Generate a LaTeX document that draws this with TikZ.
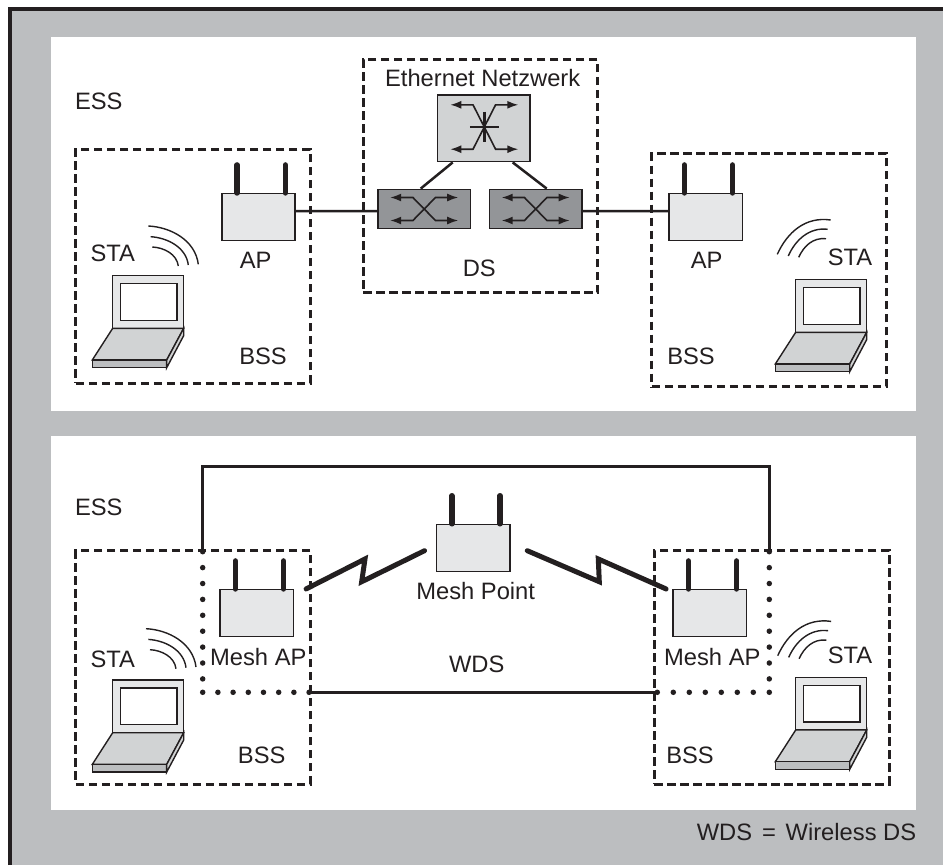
\documentclass[tikz,border=0pt]{standalone}
\usepackage{fontspec}
\setmainfont{Liberation Sans}
\usepackage{xcolor}
\definecolor{wlgray}{RGB}{188,190,192}
\definecolor{wllight}{RGB}{230,231,232}
\definecolor{wlmid}{RGB}{209,211,212}
\definecolor{wldark}{RGB}{147,149,152}
\definecolor{wlink}{RGB}{35,31,32}
\usetikzlibrary{arrows.meta, positioning}
\tikzset{
  lbl/.style={font=\fontsize{6.75}{8}\selectfont, text=wlink, inner sep=0pt},
  zone/.style={draw=wlink, line width=0.03cm, dash pattern=on 0.085cm off 0.045cm, inner sep=0pt},
  apbox/.style={draw=wlink, fill=wllight, line width=0.015cm, minimum width=0.733cm, minimum height=0.47cm, inner sep=0pt},
  swbox/.style={draw=wlink, fill=wldark, line width=0.015cm, minimum width=0.927cm, minimum height=0.393cm, inner sep=0pt},
  corebox/.style={draw=wlink, fill=wlmid, line width=0.015cm, minimum width=0.927cm, minimum height=0.667cm, inner sep=0pt},
  antenna/.style={draw=wlink, line width=0.055cm, line cap=round},
  link/.style={draw=wlink, line width=0.025cm},
  zigzag/.style={draw=wlink, line width=0.05cm, line cap=round},
  meshdots/.style={draw=wlink, line width=0.055cm, line cap=round},
  thinline/.style={draw=wlink, line width=0.014cm},
  swarrow/.style={draw=wlink, line width=0.016cm, {Latex[length=0.11cm,width=0.08cm]}-{Latex[length=0.11cm,width=0.08cm]}}
}
\newcommand{\antennas}[1]{
  \draw[antenna] ([xshift=-0.214cm]#1.north) -- ++(0,-0.28);
  \draw[antenna] ([xshift=0.268cm]#1.north) -- ++(0,-0.28);
}
\newcommand{\laptop}[1]{
  \begin{scope}[shift={#1}]
    \draw[thinline, fill=wllight] (0,0) rectangle (0.71,-0.526);
    \draw[thinline, fill=white] (0.076,-0.08) rectangle (0.643,-0.446);
    \draw[thinline, fill=wlmid] (0,0) -- (0.71,0) -- (0.54,0.317) -- (-0.204,0.317) -- cycle;
    \draw[thinline, fill=wlgray] (-0.204,0.317) rectangle (0.54,0.394);
    \draw[thinline, fill=wlmid] (0.54,0.317) -- (0.71,0) -- (0.71,0.073) -- (0.54,0.394) -- cycle;
  \end{scope}
}
\newcommand{\wavesleft}[1]{
  \begin{scope}[shift={#1}]
    \draw[thinline] (0,0) .. controls (0.22,0.01) and (0.47,0.14) .. (0.50,0.383);
    \draw[thinline] (0.024,0.107) .. controls (0.189,0.117) and (0.379,0.212) .. (0.40,0.39);
    \draw[thinline] (0.04,0.21) .. controls (0.155,0.215) and (0.285,0.28) .. (0.30,0.40);
  \end{scope}
}
\newcommand{\wavesright}[1]{
  \begin{scope}[shift={#1}]
    \draw[thinline] (0,0) .. controls (0.10,-0.22) and (0.28,-0.38) .. (0.534,-0.343);
    \draw[thinline] (0.11,0.017) .. controls (0.18,-0.143) and (0.32,-0.273) .. (0.504,-0.25);
    \draw[thinline] (0.214,0.03) .. controls (0.264,-0.08) and (0.354,-0.17) .. (0.487,-0.156);
  \end{scope}
}
\newcommand{\swarrows}[2]{
  \begin{scope}[shift={#1}]
    \draw[swarrow] (-0.34,-#2) -- (-0.113,-#2) -- (0.113,#2) -- (0.34,#2);
    \draw[swarrow] (-0.34,#2) -- (-0.113,#2) -- (0.113,-#2) -- (0.34,-#2);
  \end{scope}
}
\begin{document}
\begin{tikzpicture}[y=-1cm]
  \useasboundingbox (0,0) rectangle (9.43,8.65);
  % Background and panels
  \fill[wlgray] (0.10,0.09) rectangle (9.43,8.65);
  \draw[wlink, line width=0.035cm] (0.10,8.65) -- (0.10,0.09) -- (9.43,0.09);
  \fill[white] (0.51,0.367) rectangle (9.16,4.11);
  \fill[white] (0.51,4.36) rectangle (9.16,8.10);

  % --- Upper panel: ESS with DS ---
  \node[lbl] (essA) at (0.988,1.01) {ESS};
  % Zones
  \node[zone, minimum width=2.343cm, minimum height=2.34cm] (bssA) at (1.929,2.66) {};
  \node[zone, minimum width=2.347cm, minimum height=2.334cm] (bssB) at (7.693,2.70) {};
  \node[zone, minimum width=2.344cm, minimum height=2.334cm] (dsBox) at (4.805,1.76) {};
  % Switches
  \node[corebox] (core) at (4.837,1.283) {};
  \node[swbox] (swL) at (4.242,2.09) {};
  \node[swbox] (swR) at (5.357,2.09) {};
  \swarrows{(4.843,1.27)}{0.222}
  \draw[wlink, line width=0.025cm] (4.698,1.27) -- (4.988,1.27);
  \draw[wlink, line width=0.025cm] (4.843,1.117) -- (4.843,1.423);
  \swarrows{(4.242,2.09)}{0.115}
  \swarrows{(5.357,2.09)}{0.115}
  \draw[link] ([xshift=-0.31cm]core.south) -- ([xshift=-0.035cm]swL.north);
  \draw[link] ([xshift=0.29cm]core.south) -- ([xshift=0.11cm]swR.north);
  \node[lbl] (ethLbl) at (4.827,0.78) {Ethernet Netzwerk};
  \node[lbl] (dsLbl) at (4.793,2.683) {DS};
  % Access points
  \node[apbox] (apL) at (2.585,2.172) {};
  \node[apbox] (apR) at (7.057,2.172) {};
  \antennas{apL}
  \antennas{apR}
  \node[lbl] (apLlbl) at (2.557,2.60) {AP};
  \node[lbl] (apRlbl) at (7.067,2.60) {AP};
  \draw[link] ([yshift=0.062cm]apL.east) -- ([yshift=-0.022cm]swL.west);
  \draw[link] ([yshift=-0.022cm]swR.east) -- ([yshift=0.062cm]apR.west);
  % Stations
  \laptop{(1.127,3.283)}
  \laptop{(7.957,3.323)}
  \wavesleft{(1.483,2.26)}
  \wavesright{(7.773,2.543)}
  \node[lbl] (staA) at (1.127,2.53) {STA};
  \node[lbl] (staB) at (8.50,2.573) {STA};
  \node[lbl] (bssAlbl) at (2.63,3.567) {BSS};
  \node[lbl] (bssBlbl) at (6.91,3.567) {BSS};

  % --- Lower panel: ESS with WDS ---
  \node[lbl] (essB) at (0.988,5.077) {ESS};
  % Zones
  \node[zone, minimum width=2.343cm, minimum height=2.337cm] (bssC) at (1.929,6.672) {};
  \node[zone, minimum width=2.347cm, minimum height=2.337cm] (bssD) at (7.717,6.672) {};
  % Mesh nodes
  \node[apbox] (meshL) at (2.567,6.132) {};
  \node[apbox] (meshR) at (7.098,6.132) {};
  \node[apbox] (meshP) at (4.732,5.48) {};
  \antennas{meshL}
  \antennas{meshR}
  \antennas{meshP}
  \node[lbl] (meshLlbl) at (2.583,6.567) {Mesh AP};
  \node[lbl] (meshRlbl) at (7.123,6.567) {Mesh AP};
  \node[lbl] (meshPlbl) at (4.757,5.907) {Mesh Point};
  \node[lbl] (wdsLbl) at (4.767,6.64) {WDS};
  % Wireless hops
  \draw[zigzag] ([xshift=0.12cm]meshL.north east) -- (3.65,5.59) -- (3.617,5.817) -- ([xshift=-0.113cm,yshift=-0.027cm]meshP.west);
  \draw[zigzag] ([xshift=0.167cm,yshift=-0.027cm]meshP.east) -- (5.993,5.817) -- (5.983,5.59) -- ([xshift=-0.063cm]meshR.north west);
  % Wired backbone
  \coordinate (ringL) at (2.027,5.517);
  \coordinate (ringR) at (7.693,5.517);
  \coordinate (cornerL) at (2.027,6.923);
  \coordinate (wdsL) at (3.093,6.923);
  \coordinate (wdsR) at (6.573,6.923);
  \draw[link] (ringL) -- ++(0,-0.85) -| (ringR);
  \draw[link] (wdsL) -- (wdsR);
  \draw[meshdots, dash pattern=on 0pt off 0.159cm] (ringL) -- (2.027,6.80);
  \draw[meshdots, dash pattern=on 0pt off 0.159cm] (ringR) -- (7.693,6.80);
  \draw[meshdots, dash pattern=on 0pt off 0.152cm] (cornerL) -- (3.10,6.923);
  \draw[meshdots, dash pattern=on 0pt off 0.16cm] (wdsR) -- (7.70,6.923);
  % Stations
  \laptop{(1.127,7.327)}
  \laptop{(7.957,7.30)}
  \wavesleft{(1.46,6.287)}
  \wavesright{(7.777,6.557)}
  \node[lbl] (staC) at (1.127,6.59) {STA};
  \node[lbl] (staD) at (8.50,6.557) {STA};
  \node[lbl] (bssClbl) at (2.617,7.557) {BSS};
  \node[lbl] (bssDlbl) at (6.90,7.557) {BSS};

  % Footnote
  \node[lbl] (noteLbl) at (8.065,8.323) {WDS\hspace{0.035cm} = \hspace{0.03cm}Wireless DS};
\end{tikzpicture}
\end{document}
